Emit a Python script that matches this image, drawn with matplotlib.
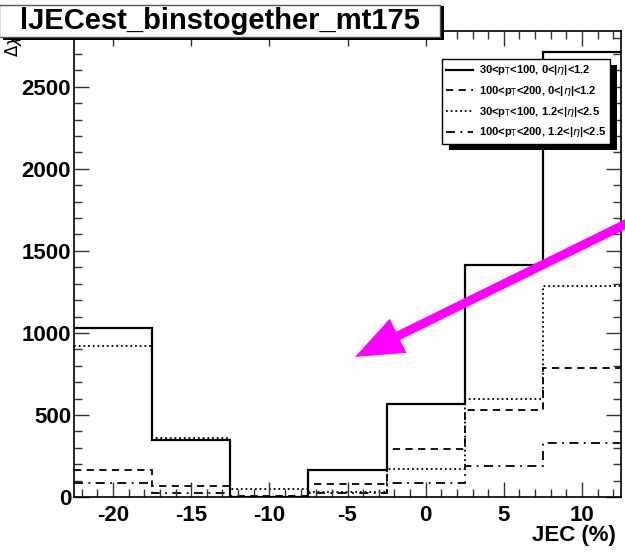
import numpy as np
import matplotlib
matplotlib.use("Agg")
import matplotlib.pyplot as plt
import matplotlib.patches as mpatches
from matplotlib.transforms import IdentityTransform
from matplotlib.ticker import MultipleLocator

plt.rcParams['font.family'] = ['Liberation Sans', 'DejaVu Sans']
plt.rcParams['axes.unicode_minus'] = False

# bin edges of JEC (%) and the four histograms
edges = [-22.5, -17.5, -12.5, -7.5, -2.5, 2.5, 7.5, 12.5]
lo_pt_central = [1030, 349, 0, 165, 565, 1415, 2713]
hi_pt_central = [165, 69, 8, 77, 290, 529, 785]
lo_pt_forward = [922, 360, 47, 30, 169, 600, 1287]
hi_pt_forward = [87, 23, 3, 23, 87, 189, 331]
labels = [r"30<p$_{\rm T}$<100, 0<|$\eta$|<1.2",
          r"100<p$_{\rm T}$<200, 0<|$\eta$|<1.2",
          r"30<p$_{\rm T}$<100, 1.2<|$\eta$|<2.5",
          r"100<p$_{\rm T}$<200, 1.2<|$\eta$|<2.5"]

W, H = 625, 556
fig = plt.figure(figsize=(W / 100, H / 100), dpi=100)
ax = fig.add_axes([74 / W, 1 - 497 / H, (621 - 74) / W, (497 - 31) / H])

styles = ['-', (0, (4, 3)), (0, (1, 1.6)), (0, (5, 3, 1, 3))]
series = [lo_pt_central, hi_pt_central, lo_pt_forward, hi_pt_forward]
handles = []
for vals, ls, lab in zip(series, styles, labels):
    h = ax.stairs(vals, edges, baseline=None, color='black', linestyle=ls,
                  linewidth=1.6 if ls == '-' else 1.3, label=lab)
    handles.append(h)

ax.set_xlim(-22.5, 12.5)
ax.set_ylim(0, 2840)
ax.xaxis.set_major_locator(MultipleLocator(5))
ax.xaxis.set_minor_locator(MultipleLocator(1))
ax.yaxis.set_major_locator(MultipleLocator(500))
ax.yaxis.set_minor_locator(MultipleLocator(100))
ax.tick_params(which='both', direction='in', top=True, right=True,
               labelsize=16, width=1, color='#333333')
ax.tick_params(which='major', length=11)
ax.tick_params(which='minor', length=5.5)
for lab in ax.get_xticklabels() + ax.get_yticklabels():
    lab.set_fontweight('bold')
ax.tick_params(axis='x', pad=6)
ax.tick_params(axis='y', pad=2)
for s in ax.spines.values():
    s.set_linewidth(1.2)

fig.text(616 / W, 1 - 536 / H, "JEC (%)", ha='right', va='center',
         fontsize=16, fontweight='bold')
fig.text(13 / W, 1 - 57 / H, r"$\Delta\chi^2$", rotation=90, ha='center',
         va='bottom', fontsize=12)

leg = ax.legend(handles=handles, loc='upper left',
                bbox_to_anchor=(442 / W, 1 - 59 / H), bbox_transform=fig.transFigure,
                frameon=True, fancybox=False, edgecolor='black', framealpha=1,
                prop={'size': 8, 'weight': 'bold'}, handlelength=2.4,
                borderaxespad=0, labelspacing=0.6, borderpad=0.4,
                handletextpad=0.5)
leg.get_frame().set_linewidth(1)
leg.set_zorder(6)
fig.canvas.draw()
bb = leg.get_window_extent()
shadow = mpatches.Rectangle((bb.x0 + 7, bb.y0 - 6), bb.width, bb.height,
                            transform=IdentityTransform(), facecolor='black',
                            edgecolor='none', zorder=5.5, clip_on=False)
ax.add_artist(shadow)

# title box with shadow
fig.add_artist(mpatches.Rectangle((3 / W, 1 - 40 / H), 441 / W, 34 / H,
                                  transform=fig.transFigure, facecolor='black',
                                  edgecolor='none', zorder=3))
fig.add_artist(mpatches.Rectangle((-1 / W, 1 - 37 / H), 441 / W, 32 / H,
                                  transform=fig.transFigure, facecolor='white',
                                  edgecolor='#555555', linewidth=1, zorder=4))
fig.text(220 / W, 1 - 21 / H, "lJECest_binstogether_mt175", ha='center',
         va='center', fontsize=21, fontweight='bold', zorder=5)

# magenta arrow
p0 = np.array([640.0, H - 217.0])
p1 = np.array([355.0, H - 357.0])
d = p1 - p0
arrow = mpatches.FancyArrow(p0[0], p0[1], d[0], d[1], width=9, head_width=38,
                            head_length=48, length_includes_head=True,
                            transform=IdentityTransform(), color='#ff00ff',
                            linewidth=0, zorder=10)
fig.add_artist(arrow)

fig.savefig("out.png", dpi=100)
